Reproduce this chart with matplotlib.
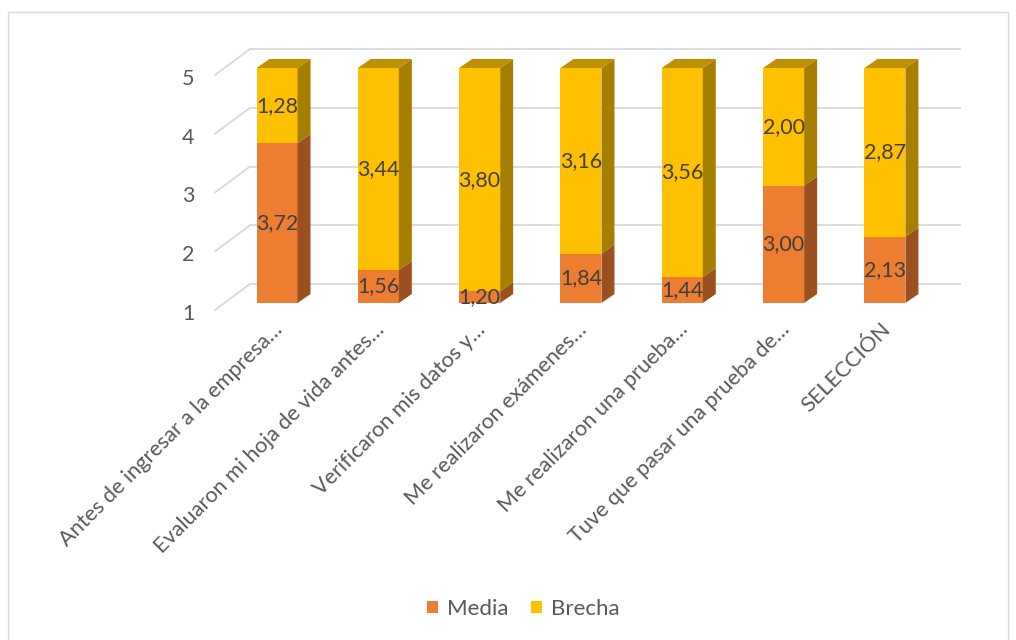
import matplotlib
matplotlib.use('Agg')
import matplotlib.pyplot as plt
import matplotlib.transforms as mtransforms
from matplotlib.patches import Polygon, Patch, Rectangle

# data
categories = ['Antes de ingresar a la empresa…',
              'Evaluaron mi hoja de vida antes…',
              'Verificaron mis datos y…',
              'Me realizaron exámenes…',
              'Me realizaron una prueba…',
              'Tuve que pasar una prueba de…',
              'SELECCIÓN']
media = [3.72, 1.56, 1.20, 1.84, 1.44, 3.00, 2.13]
brecha = [1.28, 3.44, 3.80, 3.16, 3.56, 2.00, 2.87]
yticks = [1, 2, 3, 4, 5]

c_media, c_brecha = '#ED7D31', '#FFC000'
c_media_side, c_brecha_side, c_brecha_top = '#9C5020', '#A67F00', '#BF9000'
grid_c = '#D9D9D9'
plt.rcParams['font.family'] = ['Lato', 'DejaVu Sans']

W, H = 1016, 640
fig = plt.figure(figsize=(W / 100, H / 100), dpi=100)

# front plane of the bars, in pixels
left_px, right_px = 226.35, 935.6
bot_px, top_px = 303, 68
ax = fig.add_axes([left_px / W, 1 - bot_px / H,
                   (right_px - left_px) / W, (bot_px - top_px) / H])
n = len(categories)
ax.set_xlim(-0.5, n - 0.5)
ax.set_ylim(1, 5)
for s in ax.spines.values():
    s.set_visible(False)
ax.patch.set_visible(False)

# pixel -> data unit conversions
ppx = (right_px - left_px) / n
ppy = (bot_px - top_px) / 4.0
def dx(p):
    return p / ppx
def dy(p):
    return p / ppy

# back wall gridlines + side wall diagonals
x_front = -0.5 + dx(215 - left_px)
x_back = -0.5 + dx(250 - left_px)
x_end = -0.5 + dx(960 - left_px)
for v in yticks:
    ax.plot([x_back, x_end], [v + dy(19), v + dy(19)], color=grid_c,
            lw=1.3, clip_on=False, zorder=0.5)
    ax.plot([x_front, x_back], [v - dy(7), v + dy(19)], color=grid_c,
            lw=1.3, clip_on=False, zorder=0.5)

# bars (front faces)
x = list(range(n))
bw = dx(41)
ax.bar(x, media, width=bw, color=c_media, zorder=2)
ax.bar(x, brecha, width=bw, bottom=media, color=c_brecha, zorder=2)

# fake depth
ddx, ddy = dx(13), dy(9)
for i in range(n):
    xr = i + bw / 2
    xl = i - bw / 2
    segs = [(0, media[i], c_media_side), (media[i], media[i] + brecha[i], c_brecha_side)]
    for y0, y1, col in segs:
        y0 = max(y0, 1)
        ax.add_patch(Polygon([(xr, y0), (xr, y1), (xr + ddx, y1 + ddy), (xr + ddx, y0 + ddy)],
                             closed=True, facecolor=col, edgecolor='none',
                             zorder=2, clip_on=False))
    ytop = media[i] + brecha[i]
    ax.add_patch(Polygon([(xl, ytop), (xr, ytop), (xr + ddx, ytop + ddy), (xl + ddx, ytop + ddy)],
                         closed=True, facecolor=c_brecha_top, edgecolor='none',
                         zorder=2, clip_on=False))

    # data labels centred on the visible part
    ax.text(i, (1 + media[i]) / 2, f'{media[i]:.2f}'.replace('.', ','),
            ha='center', va='center', fontsize=15.5, color='#404040', zorder=3)
    ax.text(i, media[i] + brecha[i] / 2, f'{brecha[i]:.2f}'.replace('.', ','),
            ha='center', va='center', fontsize=15.5, color='#404040', zorder=3)

# ticks
ax.set_yticks(yticks)
ax.set_yticklabels([str(v) for v in yticks])
ax.tick_params(axis='y', length=0, pad=23, labelsize=15.5, labelcolor='#595959')
for lbl in ax.get_yticklabels():
    lbl.set_transform(lbl.get_transform() + mtransforms.Affine2D().translate(0, -9))

ax.set_xticks(x)
ax.set_xticklabels(categories)
ax.tick_params(axis='x', length=0, pad=20, labelsize=15.6, labelcolor='#595959')
for lbl in ax.get_xticklabels():
    lbl.set_rotation(45)
    lbl.set_ha('right')
    lbl.set_va('baseline')
    lbl.set_rotation_mode('anchor')
    lbl.set_transform(lbl.get_transform() + mtransforms.Affine2D().translate(7, 0))

# legend
handles = [Patch(facecolor=c_media, label='Media'), Patch(facecolor=c_brecha, label='Brecha')]
fig.legend(handles=handles, loc='center', bbox_to_anchor=(523 / W, 1 - 609 / H),
           ncol=2, frameon=False, fontsize=16, labelcolor='#595959',
           handlelength=0.5, handleheight=0.5, handletextpad=0.4, columnspacing=1.0)

# chart border
fig.add_artist(Rectangle((8 / W, -0.05), 1000 / W, 1.05 - 12 / H, transform=fig.transFigure,
                         fill=False, edgecolor=grid_c, lw=1))

fig.savefig('out.png', dpi=100, facecolor='white')
